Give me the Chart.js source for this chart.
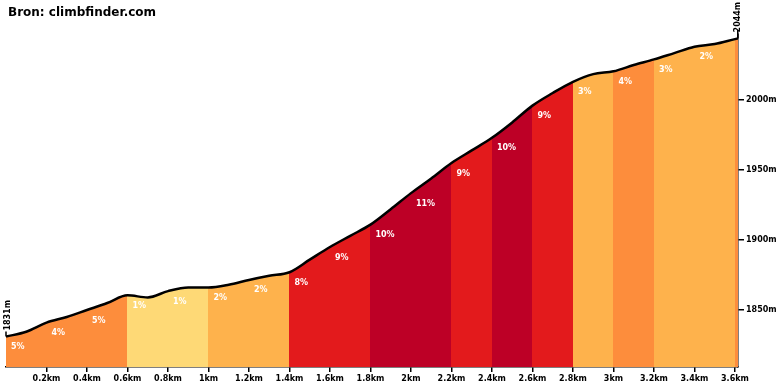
<!DOCTYPE html>
<html>
<head>
<meta charset="utf-8">
<script src="https://cdn.jsdelivr.net/npm/chart.js@4.4.1/dist/chart.umd.min.js"></script>
<style>
	html, body { margin: 0; padding: 0; background: #fff; }
	#wrap { width: 780px; height: 390px; position: relative; }
</style>
</head>
<body>
<div id="wrap"><canvas id="profileChart"></canvas></div>
<script>
// Hoehenprofil (km / m)
const distances  = [0, 0.1, 0.2, 0.3, 0.4, 0.5, 0.6, 0.7, 0.8, 0.9, 1.0, 1.1, 1.2, 1.3, 1.4, 1.5, 1.6, 1.7, 1.8, 1.9,
					2.0, 2.1, 2.2, 2.3, 2.4, 2.5, 2.6, 2.7, 2.8, 2.9, 3.0, 3.1, 3.2, 3.3, 3.4, 3.5, 3.6, 3.615];
const elevations = [1831, 1834.5, 1841, 1845, 1850, 1855, 1860.5, 1859, 1863.5, 1866, 1866, 1868, 1871.5, 1874.5, 1877, 1886, 1895, 1903, 1911, 1922,
					1933.5, 1944, 1955, 1964, 1973, 1984, 1996, 2005, 2013, 2018.5, 2020.5, 2025, 2029, 2033.5, 2038, 2040, 2043.5, 2044];

// Abschnitte mit Steigung in %
const segmentStarts = [0, 0.2, 0.4, 0.6, 0.8, 1.0, 1.2, 1.4, 1.6, 1.8, 2.0, 2.2, 2.4, 2.6, 2.8, 3.0, 3.2, 3.4, 3.6];
const segmentGrades = [5, 4, 5, 1, 1, 2, 2, 8, 9, 10, 11, 9, 10, 9, 3, 4, 3, 2, 4];

const xTicks = [0.2, 0.4, 0.6, 0.8, 1.0, 1.2, 1.4, 1.6, 1.8, 2.0, 2.2, 2.4, 2.6, 2.8, 3.0, 3.2, 3.4, 3.6];
const yTicks = [1850, 1900, 1950, 2000];

const titleText = 'Bron: climbfinder.com';
const labelFont = 'bold 8px "DejaVu Sans"';

function gradeColor(g) {
	if (g <= 1) return '#fed976';
	if (g <= 3) return '#feb24c';
	if (g <= 5) return '#fd8d3c';
	if (g <= 7) return '#fc4e2a';
	if (g <= 9) return '#e31a1c';
	return '#bd0026';
}

function segmentEnd(ii) {
	return ii + 1 < segmentStarts.length ? segmentStarts[ii + 1] : distances[distances.length - 1];
}

function elevationAt(x) {
	for (let ii = 0; ii < distances.length; ii++) {
		if (Math.abs(distances[ii] - x) < 1e-6) return elevations[ii];
	}
	return elevations[0];
}

// Fuellung: harter Farbverlauf entlang der x-Achse, je Abschnitt eine Farbe
function segmentFill(context) {
	const chart = context.chart;
	const area = chart.chartArea;
	const xs = chart.scales.x;
	if (!area || !xs) return gradeColor(segmentGrades[0]);
	const w = area.right - area.left;
	const grad = chart.ctx.createLinearGradient(area.left, 0, area.right, 0);
	for (let ii = 0; ii < segmentStarts.length; ii++) {
		let f0 = Math.min(1, Math.max(0, (xs.getPixelForValue(segmentStarts[ii]) - area.left) / w));
		let f1 = Math.min(1, Math.max(0, (xs.getPixelForValue(segmentEnd(ii)) - area.left) / w));
		let c = gradeColor(segmentGrades[ii]);
		grad.addColorStop(f0, c);
		grad.addColorStop(f1, c);
	}
	return grad;
}

const points = distances.map((d, i) => ({x: d, y: elevations[i]}));

// Beschriftungen: Steigung, Start- und Endhoehe, Titel
const profileLabels = {
	id: 'profileLabels',
	afterDatasetsDraw(chart) {
		const ctx = chart.ctx;
		const xs = chart.scales.x;
		const ys = chart.scales.y;
		ctx.save();
		ctx.font = labelFont;
		ctx.fillStyle = '#fff';
		ctx.textAlign = 'left';
		ctx.textBaseline = 'middle';
		for (let ii = 0; ii < segmentStarts.length; ii++) {
			if (segmentEnd(ii) - segmentStarts[ii] < 0.1) continue;
			let px = xs.getPixelForValue(segmentStarts[ii]) + 5;
			let py = ys.getPixelForValue(elevationAt(segmentStarts[ii])) + 10.5;
			ctx.fillText(segmentGrades[ii] + '%', px, py);
		}

		// Start / Ende
		ctx.fillStyle = '#000';
		ctx.strokeStyle = '#000';
		ctx.lineWidth = 1.5;
		const ends = [0, distances.length - 1];
		ends.forEach(i => {
			let px = xs.getPixelForValue(distances[i]);
			let py = ys.getPixelForValue(elevations[i]);
			ctx.beginPath();
			ctx.moveTo(px, py);
			ctx.lineTo(px, py - 5);
			ctx.stroke();
			ctx.save();
			ctx.translate(px + (i === 0 ? 1.5 : 0), py - 6);
			ctx.rotate(-Math.PI / 2);
			ctx.textAlign = 'left';
			ctx.textBaseline = 'middle';
			ctx.fillText(Math.round(elevations[i]) + 'm', 0, 0);
			ctx.restore();
		});

		ctx.font = 'bold 12px "DejaVu Sans"';
		ctx.textAlign = 'left';
		ctx.textBaseline = 'middle';
		ctx.fillText(titleText, 8, 13);
		ctx.restore();
	}
};

new Chart(document.getElementById('profileChart'), {
	type: 'line',
	data: {
		datasets: [{
			data: points,
			borderColor: '#000',
			borderWidth: 2.5,
			pointRadius: 0,
			tension: 0.4,
			cubicInterpolationMode: 'monotone',
			fill: 'start',
			backgroundColor: segmentFill
		}]
	},
	options: {
		responsive: true,
		maintainAspectRatio: false,
		devicePixelRatio: 1,
		animation: false,
		events: [],
		layout: { padding: { left: 6, top: 31, right: 0, bottom: 0 } },
		plugins: {
			legend: { display: false },
			tooltip: { enabled: false }
		},
		scales: {
			x: {
				type: 'linear',
				min: 0,
				max: 3.615,
				afterBuildTicks: s => { s.ticks = xTicks.map(v => ({value: v})); },
				afterFit: s => { s.height = 23; },
				ticks: {
					autoSkip: false,
					maxRotation: 0,
					padding: 2,
					color: '#000',
					font: { family: 'DejaVu Sans', size: 8, weight: 'bold' },
					callback: v => (+v.toFixed(1)) + 'km'
				},
				grid: { drawOnChartArea: false, drawTicks: true, tickLength: 5, color: '#000', lineWidth: 1.5 },
				border: { display: true, color: '#000', width: 1.5 }
			},
			y: {
				position: 'right',
				min: 1809.3,
				max: 2049.3,
				afterBuildTicks: s => { s.ticks = yTicks.map(v => ({value: v})); },
				afterFit: s => { s.width = 42; },
				ticks: {
					padding: 2,
					color: '#000',
					font: { family: 'DejaVu Sans', size: 8, weight: 'bold' },
					callback: v => v + 'm'
				},
				grid: { drawOnChartArea: false, drawTicks: true, tickLength: 6, color: '#000', lineWidth: 1.5 },
				border: { display: true, color: '#000', width: 1.5 }
			}
		}
	},
	plugins: [profileLabels]
});
</script>
</body>
</html>
